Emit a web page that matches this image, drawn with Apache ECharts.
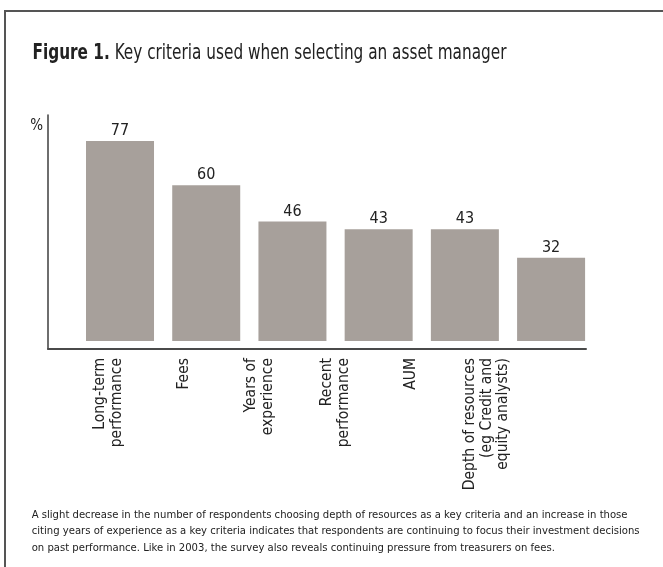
<!DOCTYPE html>
<html>
<head>
<meta charset="utf-8">
<style>
  html, body { margin: 0; padding: 0; background: #fff; }
  #chart { width: 663px; height: 567px; }
</style>
<script src="https://cdn.jsdelivr.net/npm/echarts@6/dist/echarts.min.js"></script>
</head>
<body>
<div id="chart"></div>
<script>
// Share of respondents naming each criterion (%)
var categories = [
  'Long-term\nperformance',
  'Fees',
  'Years of\nexperience',
  'Recent\nperformance',
  'AUM',
  'Depth of resources\n(eg Credit and\nequity analysts)'
];
var shares = [77, 60, 46, 43, 43, 32];

var titleBold = 'Figure 1.';
var titleText = ' Key criteria used when selecting an asset manager';
var noteText = 'A slight decrease in the number of respondents choosing depth of resources as a key criteria and an increase in those\n' +
  'citing years of experience as a key criteria indicates that respondents are continuing to focus their investment decisions\n' +
  'on past performance. Like in 2003, the survey also reveals continuing pressure from treasurers on fees.';

var FONT = '"DejaVu Sans Condensed", "Liberation Sans", sans-serif';
var INK = '#222';
var AXIS = '#4a4a4a';

var chart = echarts.init(document.getElementById('chart'), null, { renderer: 'canvas' });

chart.setOption({
  backgroundColor: '#fff',
  animation: false,
  textStyle: { fontFamily: FONT },
  title: [
    {
      left: 31.7, top: 506.5, padding: 0,
      text: noteText,
      textStyle: { fontFamily: FONT, fontSize: 11.2, fontWeight: 'normal', color: INK, lineHeight: 16.7 }
    }
  ],
  graphic: [
    {
      // outer frame that runs off the right and bottom edges
      type: 'rect', silent: true,
      shape: { x: 5, y: 11, width: 700, height: 600 },
      style: { fill: 'none', stroke: '#555', lineWidth: 2 }
    },
    {
      // heading, set in a narrowed face
      type: 'text', silent: true,
      x: 32.5, y: 43.5, scaleX: 0.81,
      style: {
        text: '{b|' + titleBold + '}' + titleText,
        fontFamily: FONT, fontSize: 21, fill: INK,
        verticalAlign: 'top', align: 'left',
        rich: { b: { fontFamily: FONT, fontSize: 21, fontWeight: 'bold', fill: INK } }
      }
    }
  ],
  grid: [
    // bars
    { left: 76.9, right: 68.8, top: 115, bottom: 226 },
    // axis frame
    { left: 48, right: 77, top: 115, bottom: 218 },
    // category labels
    { left: 70.7, right: 138.7, top: 115, bottom: 218 }
  ],
  xAxis: [
    {
      gridIndex: 0, type: 'category', data: categories,
      axisLine: { show: false }, axisTick: { show: false }, axisLabel: { show: false }
    },
    {
      gridIndex: 1, type: 'value', min: 0, max: 1,
      axisLine: { show: true, lineStyle: { color: AXIS, width: 2 } },
      axisTick: { show: false }, axisLabel: { show: false }, splitLine: { show: false }
    },
    {
      gridIndex: 2, type: 'category', data: categories,
      axisLine: { show: false }, axisTick: { show: false },
      axisLabel: {
        rotate: 90, margin: 9, interval: 0,
        fontFamily: FONT, fontSize: 15.5, lineHeight: 16.5, color: INK
      }
    }
  ],
  yAxis: [
    {
      gridIndex: 0, type: 'value', min: 0, max: 87,
      axisLine: { show: false }, axisTick: { show: false },
      axisLabel: { show: false }, splitLine: { show: false }
    },
    {
      gridIndex: 1, type: 'value', min: 0, max: 1,
      name: '%', nameLocation: 'end', nameGap: -11,
      nameTextStyle: {
        fontFamily: FONT, fontSize: 15, color: INK,
        align: 'right', verticalAlign: 'middle', padding: [0, 5, 0, 0]
      },
      axisLine: { show: true, lineStyle: { color: AXIS, width: 1.6 } },
      axisTick: { show: false }, axisLabel: { show: false }, splitLine: { show: false }
    },
    {
      gridIndex: 2, type: 'value', min: 0, max: 1, show: false
    }
  ],
  series: [
    {
      type: 'bar', xAxisIndex: 0, yAxisIndex: 0,
      data: shares, barWidth: 68,
      itemStyle: { color: '#a7a09b' },
      label: {
        show: true, position: 'top', distance: 2,
        fontFamily: FONT, fontSize: 16, color: INK
      }
    }
  ]
});
</script>
</body>
</html>
